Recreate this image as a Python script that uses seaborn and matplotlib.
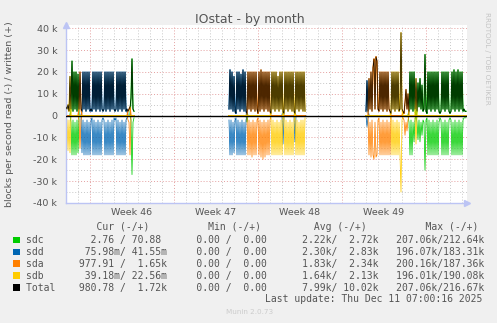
import matplotlib
matplotlib.use("Agg")
import matplotlib.pyplot as plt
from matplotlib.ticker import MultipleLocator, FuncFormatter
import numpy as np
import pandas as pd
import seaborn as sns

# ---------------- data ----------------
STEP_H = 2                                   # one sample every 2 hours
window_start_h = [-48, 278, 552]             # hours since Monday of week 46

# Total written (thousands of blocks/s), one list per data window
written_k_a = [4, 3, 5, 2, 18, 3, 25, 2, 20, 3, 20, 2, 19, 3, 20, 3,
               2, 20, 3, 20, 2, 20, 3, 20, 2, 3, 2,
               20, 3, 20, 2, 20, 3, 20, 2, 20, 3, 2, 3,
               20, 2, 20, 3, 20, 2, 20, 3, 20, 3, 2, 3,
               20, 2, 20, 3, 20, 2, 20, 3, 20, 2, 3, 2,
               3, 4, 8, 26, 3, 2]
written_k_b = [3, 21, 3, 20, 2, 18, 2, 1,
               20, 3, 20, 2, 19, 3, 21, 2, 20, 2, 1,
               20, 3, 20, 2, 20, 3, 20, 2, 20, 3, 1,
               20, 2, 21, 3, 20, 2, 20, 3, 20, 2, 20, 2, 1,
               20, 3, 20, 2, 20, 3, 18, 2, 20, 3, 20, 2, 1,
               20, 3, 20, 2, 20, 3, 20, 2, 20, 2, 1,
               20, 3, 20, 2, 20, 3, 20, 2, 20, 2]
written_k_c = [2, 16, 2, 17, 3, 20, 2, 22, 26, 3, 27, 25, 3, 2,
               20, 3, 20, 2, 20, 3, 20, 2, 20, 3, 2, 1,
               20, 3, 20, 2, 20, 3, 20, 2, 3, 38, 3, 2, 1,
               6, 12, 3, 10, 2,
               20, 3, 20, 2, 20, 3, 17, 2, 15, 4, 17, 3, 14, 2, 3, 28, 2, 1,
               20, 3, 20, 2, 20, 3, 20, 2, 20, 3, 20, 2, 1, 2,
               20, 3, 20, 2, 20, 3, 20, 2, 1, 2,
               20, 3, 21, 2, 20, 3, 21, 2, 20, 3, 20, 2, 3, 2, 2]

# Read (thousands of blocks/s, drawn downward)
read_k_a = [1, 2, 16, 2, 17, 3, 18, 2, 18, 3, 18, 2, 17, 2, 15, 2,
            17, 2, 18, 3, 18, 2, 18, 3, 18, 2, 1,
            18, 2, 18, 3, 18, 2, 18, 3, 18, 2, 1, 2,
            18, 3, 18, 2, 18, 3, 18, 2, 18, 1, 2, 1,
            18, 2, 18, 3, 18, 2, 18, 3, 18, 2, 1, 2,
            3, 18, 2, 27, 3, 1]
read_k_b = [2, 18, 2, 18, 3, 17, 2, 1,
            18, 2, 18, 3, 18, 2, 18, 3, 18, 2, 3,
            18, 2, 18, 3, 19, 2, 18, 3, 18, 2, 1,
            18, 2, 19, 3, 20, 2, 19, 3, 18, 2, 18, 2, 1,
            18, 2, 18, 3, 18, 2, 18, 3, 18, 2, 18, 13, 1,
            18, 2, 18, 3, 18, 2, 18, 3, 18, 2, 12,
            18, 2, 18, 3, 18, 2, 18, 2, 18, 1]
read_k_c = [0, 5, 1, 18, 3, 19, 2, 18, 20, 3, 19, 18, 2, 1,
            18, 3, 18, 2, 18, 3, 18, 2, 18, 3, 18, 1,
            18, 2, 18, 3, 18, 2, 18, 3, 18, 35, 2, 1,
            2, 9, 3, 7, 2, 3,
            18, 2, 18, 3, 12, 2, 13, 3, 11, 2, 12, 3, 9, 2, 3, 25, 2, 1,
            18, 2, 18, 3, 18, 2, 18, 3, 18, 2, 18, 3, 1, 2,
            18, 3, 18, 2, 18, 3, 18, 2, 1, 2,
            18, 3, 18, 2, 18, 3, 18, 2, 18, 3, 18, 2, 1, 1, 1]

# Which disk carries the traffic at each sample (g=sdc, b=sdd, o=sda, y=sdb)
active_a = "yyyyy" + "gggggggg" + "ooo" + "b" * 46 + "ooo" + "gggg"
active_b = "b" * 18 + "g" + "o" * 23 + "y" * 12 + "b" + "y" * 11 + "b" + "y" * 10
active_c = "bbb" + "o" * 22 + "y" * 12 + "o" * 6 + "g" * 7 + "y" + "g" * 50

disk_codes = {"g": "sdc", "b": "sdd", "o": "sda", "y": "sdb"}
series = ["sdc", "sdd", "sda", "sdb", "Total"]
colors = {"sdc": "#00CC00", "sdd": "#0066B3", "sda": "#FF8000",
          "sdb": "#FFCC00", "Total": "#000000"}

cur_read = ["2.76", "75.98m", "977.91", "39.18m", "980.78"]
cur_write = ["70.88", "41.55m", "1.65k", "22.56m", "1.72k"]
min_read = ["0.00", "0.00", "0.00", "0.00", "0.00"]
min_write = ["0.00", "0.00", "0.00", "0.00", "0.00"]
avg_read = ["2.22k", "2.30k", "1.83k", "1.64k", "7.99k"]
avg_write = ["2.72k", "2.83k", "2.34k", "2.13k", "10.02k"]
max_read = ["207.06k", "196.07k", "200.16k", "196.01k", "207.06k"]
max_write = ["212.64k", "183.31k", "187.36k", "190.08k", "216.67k"]

week_labels = ["Week 46", "Week 47", "Week 48", "Week 49"]
week_centers_day = [3.5, 10.5, 17.5, 24.5]

# ---------------- build table ----------------
rows = []
windows = [(written_k_a, read_k_a, active_a),
           (written_k_b, read_k_b, active_b),
           (written_k_c, read_k_c, active_c)]
for w, ((wk, rk, act), start) in enumerate(zip(windows, window_start_h)):
    for i, (a, b, c) in enumerate(zip(wk, rk, act)):
        t = (start + i * STEP_H) / 24.0
        row = {"t": t, "window": w, "Total_w": a * 1000.0}
        for code, d in disk_codes.items():
            on = (c == code)
            row[d + "_w"] = a * 1000.0 if on else 0.0
            row[d + "_r"] = -b * 1000.0 if on else 0.0
        rows.append(row)
df = pd.DataFrame(rows)

# ---------------- figure ----------------
W, H = 497, 323
BG = "#F0F0F0"
TXT = "#555555"
fig = plt.figure(figsize=(W / 100, H / 100), dpi=100, facecolor=BG)
ax_l, ax_r, ax_t, ax_b = 65.5, 467, 25, 203
ax = fig.add_axes([ax_l / W, 1 - ax_b / H, (ax_r - ax_l) / W, (ax_b - ax_t) / H])
ax.set_facecolor("white")

xmin = (ax_l - 90) / 12.0
xmax = (ax_r - 90) / 12.0
ax.set_xlim(xmin, xmax)
ax.set_ylim(-40000, 41500)

ax.xaxis.set_major_locator(MultipleLocator(7))
ax.xaxis.set_minor_locator(MultipleLocator(1))
ax.yaxis.set_major_locator(MultipleLocator(10000))
ax.yaxis.set_minor_locator(MultipleLocator(5000))
ax.grid(which="minor", color="#C8C8C8", ls=(0, (1, 2)), lw=0.7, zorder=0)
ax.grid(which="major", color="#E4A0A0", ls=(0, (1, 2)), lw=0.7, zorder=0)
ax.set_axisbelow(True)


def yfmt(v, pos):
    if abs(v) < 1:
        return "0"
    return f"{int(round(v / 1000))} k"


ax.yaxis.set_major_formatter(FuncFormatter(yfmt))
ax.tick_params(axis="y", which="both", length=0, labelsize=6.8, labelcolor=TXT, pad=6)
ax.tick_params(axis="x", which="both", length=0, labelbottom=False)

for s in ["top", "right"]:
    ax.spines[s].set_visible(False)
for s in ["left", "bottom"]:
    ax.spines[s].set_color("#BCC4F4")
    ax.spines[s].set_linewidth(1.0)
ax.plot([0], [1.0], marker="^", ms=5, color="#BCC4F4", transform=ax.transAxes, clip_on=False)
ax.plot([1.0], [0], marker=">", ms=5, color="#BCC4F4", transform=ax.transAxes, clip_on=False)

# disk lines (read below, written above), then total
for d in ["sdc", "sdd", "sda", "sdb"]:
    sns.lineplot(data=df, x="t", y=d + "_r", units="window", estimator=None,
                 color=colors[d], lw=0.55, ax=ax, legend=False, zorder=2)
    sns.lineplot(data=df, x="t", y=d + "_w", units="window", estimator=None,
                 color=colors[d], lw=0.9, ax=ax, legend=False, zorder=2)
sns.lineplot(data=df, x="t", y="Total_w", units="window", estimator=None,
             color="black", lw=0.5, ax=ax, legend=False, zorder=3)
ax.axhline(0, color="black", lw=1.0, zorder=4)
ax.set_xlabel("")
ax.set_ylabel("")

# ---------------- texts ----------------
def P(x, y):
    return x / W, 1 - y / H


fig.text(*P(250, 19.5), "IOstat - by month", ha="center", va="center", fontsize=9, color=TXT)
fig.text(*P(10, 114), "blocks per second read (-) / written (+)", rotation=90,
         ha="center", va="center", fontsize=6.8, color=TXT)
fig.text(*P(487, 58), "RRDTOOL / TOBI OETIKER", rotation=270, ha="center", va="center",
         fontsize=5.2, color="#C4C4C4")
for lab, dc in zip(week_labels, week_centers_day):
    xp = 90 + dc * 12
    fig.text(*P(xp, 212.7), lab, ha="center", va="center", fontsize=6.8, color=TXT)

MONO = "DejaVu Sans Mono"
FS = 7


def fld(s):
    s = s if s[-1].isalpha() else s + " "
    return s.rjust(7)


header = " " * 12 + "Cur (-/+)" + " " * 10 + "Min (-/+)" + " " * 9 + "Avg (-/+)" + " " * 10 + "Max (-/+)"
fig.text(*P(26, 227.3), header, ha="left", va="center", fontsize=FS, family=MONO, color=TXT)
row_y = [240.0, 251.8, 263.6, 275.6, 287.6]
for i, name in enumerate(series):
    line = name.ljust(9)
    for a, b in [(cur_read[i], cur_write[i]), (min_read[i], min_write[i]),
                 (avg_read[i], avg_write[i]), (max_read[i], max_write[i])]:
        line += fld(a) + "/" + fld(b) + "   "
    fig.text(*P(26, row_y[i]), line.rstrip(), ha="left", va="center", fontsize=FS,
             family=MONO, color=TXT)
    sq = fig.add_axes([13.3 / W, 1 - (row_y[i] + 3.3) / H, 6.6 / W, 6.6 / H])
    sq.set_facecolor(colors[name])
    sq.set_xticks([])
    sq.set_yticks([])
    for sp in sq.spines.values():
        sp.set_visible(False)

fig.text(*P(482.3, 299.3), "Last update: Thu Dec 11 07:00:16 2025", ha="right", va="center",
         fontsize=FS, family=MONO, color=TXT)
fig.text(*P(250, 311.7), "Munin 2.0.73", ha="center", va="center", fontsize=5.2, color="#CCCCCC")

fig.savefig("out.png", dpi=100, facecolor=BG)
